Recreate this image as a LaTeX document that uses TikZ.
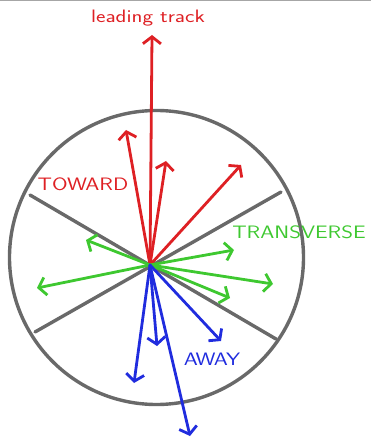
\documentclass[tikz,border=0pt]{standalone}
\usepackage{tikz}
\usetikzlibrary{arrows.meta}
\definecolor{towardred}{RGB}{222,32,36}
\definecolor{transgreen}{RGB}{62,200,48}
\definecolor{awayblue}{RGB}{32,44,222}
\definecolor{ringgray}{RGB}{105,105,105}
\newcommand{\wide}[1]{\scalebox{1.25}[1]{#1}}

\begin{document}
\begin{tikzpicture}[x=1pt, y=-1pt, line cap=round, line join=round,
    vec/.style={line width=2.8pt, -{Straight Barb[length=7pt, width=18pt, line width=2.8pt]}},
    ring/.style={draw=ringgray, line width=3.4pt},
    lbl/.style={font=\sffamily\fontsize{18}{18}\selectfont, anchor=base, inner sep=0pt}]
    \useasboundingbox (0,0) rectangle (371,438);
    \draw[gray!70, line width=1pt] (0,0.5) -- (371,0.5);

    \coordinate (c) at (156.5,257.5);
    \coordinate (o) at (150,265);
    \coordinate (tl) at (30,195);
    \coordinate (br) at (276,339);
    \coordinate (tr) at (281,192);
    \coordinate (bl) at (35,332);

    \draw[ring] (c) circle[radius=147];
    \draw[ring] (tl) -- (br);
    \draw[ring] (tr) -- (bl);

    \coordinate (lead) at (152,35);
    \coordinate (r1) at (126,130);
    \coordinate (r2) at (166,161);
    \coordinate (r3) at (241,165);
    \coordinate (g1) at (86,240);
    \coordinate (g2) at (37,288);
    \coordinate (g3) at (234,250);
    \coordinate (g4) at (273,284);
    \coordinate (g5) at (230,298);
    \coordinate (b1) at (134,383);
    \coordinate (b2) at (157,346);
    \coordinate (b3) at (221,341);
    \coordinate (b4) at (190,436);

    \path[vec]
        (o) edge[towardred] (lead)
            edge[towardred] (r1)
            edge[towardred] (r2)
            edge[towardred] (r3)
            edge[transgreen] (g1)
            edge[transgreen] (g2)
            edge[transgreen] (g3)
            edge[transgreen] (g4)
            edge[transgreen] (g5)
            edge[awayblue] (b1)
            edge[awayblue] (b2)
            edge[awayblue] (b3)
            edge[awayblue] (b4);

    \node[lbl, text=towardred] (leadlbl) at (148,23) {\wide{leading track}};
    \node[lbl, text=towardred] (towardlbl) at (83,190) {\wide{TOWARD}};
    \node[lbl, text=transgreen] (translbl) at (299,238) {\wide{TRANSVERSE}};
    \node[lbl, text=awayblue] (awaylbl) at (212,365) {\wide{AWAY}};
\end{tikzpicture}
\end{document}
